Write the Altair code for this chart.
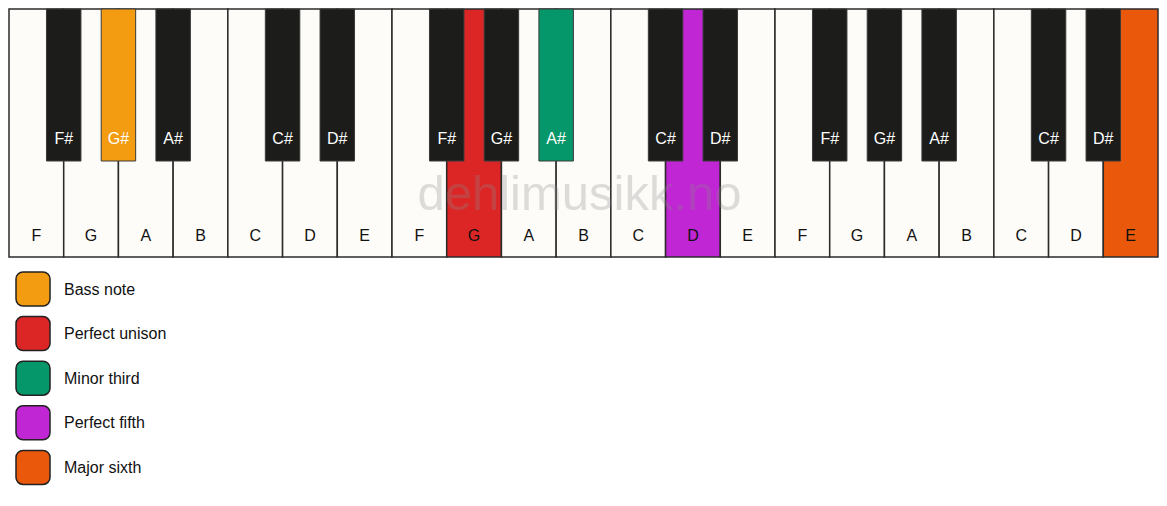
import altair as alt
import pandas as pd

# ---- data ----
white_notes = ["F", "G", "A", "B", "C", "D", "E"] * 3
black_notes = ["F#", "G#", "A#", "C#", "D#"] * 3
black_slots = [1, 2, 3, 5, 6]  # white-key boundary (within octave) each sharp sits on
roles = ["Bass note", "Perfect unison", "Minor third", "Perfect fifth", "Major sixth"]
role_colors = ["#F39C12", "#DC2626", "#059669", "#C026D3", "#EA580C"]
highlight_white = {8: "Perfect unison", 12: "Perfect fifth", 20: "Major sixth"}
highlight_black = {1: "Bass note", 7: "Minor third"}
watermark = "dehlimusikk.no"

# ---- layout ----
W, H = 1151, 490
X0, Y0 = 1, 1
KW = (W - 2) / len(white_notes)
KEY_H = 248
BK_W = 0.63 * KW
BK_H = 152
WHITE_FILL = "#FDFCF8"
BLACK_FILL = "#1C1C1A"
FONT = "Liberation Sans"
role_color = dict(zip(roles, role_colors))

wrows = []
for i, n in enumerate(white_notes):
    fill = role_color[highlight_white[i]] if i in highlight_white else WHITE_FILL
    wrows.append(dict(note=n, x=X0 + i * KW, x2=X0 + (i + 1) * KW, y=Y0, y2=Y0 + KEY_H,
                      fill=fill, lx=X0 + (i + 0.5) * KW, ly=228))
wdf = pd.DataFrame(wrows)

brows = []
for j, n in enumerate(black_notes):
    octave = j // 5
    b = octave * 7 + black_slots[j % 5]
    fill = role_color[highlight_black[j]] if j in highlight_black else BLACK_FILL
    cx = X0 + b * KW
    brows.append(dict(note=n, x=cx - BK_W / 2, x2=cx + BK_W / 2, y=Y0, y2=Y0 + BK_H,
                      fill=fill, lx=cx, ly=131))
bdf = pd.DataFrame(brows)

lrows = []
for k, (r, c) in enumerate(zip(roles, role_colors)):
    top = 264 + k * 44.6
    lrows.append(dict(role=r, fill=c, x=8, x2=42, y=top, y2=top + 34, lx=56, ly=top + 17.5))
ldf = pd.DataFrame(lrows)

wmdf = pd.DataFrame([dict(t=watermark, x=X0 + 10.5 * KW - 4, y=187)])

xs = alt.Scale(domain=[0, W], nice=False, zero=False)
ys = alt.Scale(domain=[0, H], nice=False, zero=False, reverse=True)

def X(f):
    return alt.X(f"{f}:Q", scale=xs, axis=None)

def Y(f):
    return alt.Y(f"{f}:Q", scale=ys, axis=None)

white_keys = alt.Chart(wdf).mark_rect(stroke="#2B2B2B", strokeWidth=1.5).encode(
    x=X("x"), x2="x2", y=Y("y"), y2="y2", fill=alt.Fill("fill:N", scale=None))
white_labels = alt.Chart(wdf).mark_text(font=FONT, fontSize=16, color="#111111",
                                        baseline="middle").encode(
    x=X("lx"), y=Y("ly"), text="note:N")
watermark_layer = alt.Chart(wmdf).mark_text(font=FONT, fontSize=49, color="#8A8A8A",
                                            opacity=0.28, baseline="middle").encode(
    x=X("x"), y=Y("y"), text="t:N")
black_keys = alt.Chart(bdf).mark_rect(stroke="#3A3A3A", strokeWidth=1).encode(
    x=X("x"), x2="x2", y=Y("y"), y2="y2", fill=alt.Fill("fill:N", scale=None))
black_labels = alt.Chart(bdf).mark_text(font=FONT, fontSize=16, color="#FFFFFF",
                                        baseline="middle").encode(
    x=X("lx"), y=Y("ly"), text="note:N")
legend_sw = alt.Chart(ldf).mark_rect(stroke="#222222", strokeWidth=1.5, cornerRadius=7).encode(
    x=X("x"), x2="x2", y=Y("y"), y2="y2", fill=alt.Fill("fill:N", scale=None))
legend_tx = alt.Chart(ldf).mark_text(font=FONT, fontSize=16, color="#111111",
                                     align="left", baseline="middle").encode(
    x=X("lx"), y=Y("ly"), text="role:N")

chart = alt.layer(white_keys, white_labels, watermark_layer, black_keys, black_labels,
                  legend_sw, legend_tx).properties(
    width=W, height=H, padding=0, background="#FFFFFF"
).configure_view(stroke=None)

chart.save("out.html", embed_options={"renderer": "svg", "actions": False})
